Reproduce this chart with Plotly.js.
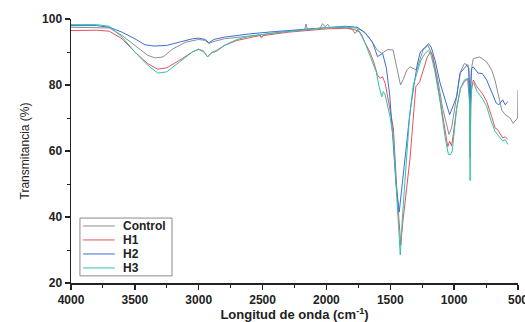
<!DOCTYPE html>
<html>
<head>
<meta charset="utf-8">
<script src="https://cdn.plot.ly/plotly-3.0.1.min.js"></script>
<style>html,body{margin:0;padding:0;background:#fff;}#chart{width:525px;height:322px;}</style>
</head>
<body>
<div id="chart"></div>
<script>
// Series names and colours
const seriesNames = ["Control", "H1", "H2", "H3"];
const seriesColors = ["#8e8e8e", "#e8525a", "#3b6fd6", "#2ec4a8"];

// Control
const wnControl = [4000,3800,3700,3600,3500,3400,3340,3280,3200,3100,3000,2950,2920,2880,2800,2600,2520,2510,2480,2300,2170,2160,2150,2050,2030,2010,1990,1970,1850,1800,1776,1750,1700,1650,1600,1567,1517,1478,1445,1420,1395,1371,1345,1320,1293,1244,1204,1170,1130,1090,1060,1040,1020,1000,980,950,920,890,875,860,850,800,745,706,680,654,627,600,562,538,515,503,500];
const tControl = [97.5,97.5,97.3,95,92,89,88.2,88.5,91,93,93.8,93.5,92.6,93.2,94,95,95.2,94.6,95.4,96.3,96.8,98.5,96.9,97.2,98.6,97.6,98.4,97.3,97.4,97,95.6,97,96,93.5,90.5,89.6,90.8,90.6,85,80,82,84.5,85.5,85,84.5,90.6,92,89,82,73,68,65,67,72,76,84,86.5,86,78,86,88,88.5,87,84.5,81.5,76.5,72.4,71,70,68.4,69.5,70,78.5];

// H1
const wnH1 = [4000,3800,3700,3600,3500,3400,3320,3250,3150,3050,3000,2960,2930,2900,2860,2800,2700,2600,2520,2510,2490,2300,2100,2000,1850,1780,1740,1700,1660,1630,1600,1580,1560,1540,1500,1476,1449,1430,1418,1403,1370,1345,1320,1300,1270,1240,1210,1185,1170,1150,1110,1070,1050,1035,1020,1000,980,950,920,890,880,875,868,850,823,780,745,706,680,660,640,620,600,580];
const tH1 = [96.5,96.6,96.3,94,90,86.5,84.8,85.2,87.5,90,90.9,90.2,88.5,89.8,90.2,92,93.5,94.3,95,94.3,95,96,96.6,97,97.2,96.8,96,93,90,87,83,82,82.5,80.5,72,67,48.5,36,31.5,38,50,58,70,79.5,81,85,88.5,90,89,85,76,66,61.3,63,61.5,67,73,79,81,82,76,58,78,81.5,79.5,77.5,75,70.4,67,66.5,65.4,64,64.3,63.5];

// H2
const wnH2 = [4000,3800,3700,3600,3500,3420,3350,3250,3150,3050,3000,2950,2920,2880,2800,2600,2400,2200,2000,1850,1760,1720,1680,1640,1600,1560,1530,1505,1480,1455,1430,1405,1375,1345,1320,1290,1265,1230,1200,1180,1150,1110,1060,1035,1000,980,955,930,900,885,875,865,850,813,780,745,720,695,670,650,620,600,580];
const tH2 = [98,98,97.5,96,94,92.2,91.8,92,93,94,94.2,93.8,92.8,93.8,94.5,95.5,96.2,96.8,97.5,97.8,97.5,96.5,95,93,88.6,89.6,85,77,64,50,41.5,50,62,72,78.5,86,90,91.5,92.5,91.5,87.6,80.6,74.5,71,74.5,76.5,83.5,84.5,86,85,72,85,85.5,83.6,83.5,81.5,79,76.5,74.5,74,75.5,74,75];

// H3
const wnH3 = [4000,3800,3700,3600,3500,3400,3320,3250,3150,3050,3000,2960,2930,2900,2860,2800,2700,2600,2400,2200,2000,1850,1760,1720,1680,1645,1610,1590,1567,1555,1540,1500,1476,1449,1430,1422,1405,1380,1350,1320,1290,1260,1230,1200,1180,1150,1110,1070,1045,1030,1015,1000,980,950,920,895,880,875,870,860,845,820,780,745,710,680,650,620,600,580];
const tH3 = [98.3,98.3,97.8,94.5,90,86,83.6,84,87,90,90.8,90,88.5,89.8,90.5,92,93.8,94.8,95.8,96.6,97.4,97.6,97.2,95,91,87,84,80,76.4,78,77,70,64,46,32,28.5,40,55,70,80,84,87.5,89.5,90.5,89,84,75,64,59,58.8,60,66,73,79,81.5,82,75,51,74,80,80.5,78,76,73.5,69,66,64.5,63,63.5,62];

const wnAll = [wnControl, wnH1, wnH2, wnH3];
const tAll = [tControl, tH1, tH2, tH3];

const xTickVals = [4000,3500,3000,2500,2000,1500,1000,500];
const yTickVals = [20,40,60,80,100];

const traces = seriesNames.map((n, i) => ({
  type: 'scatter', mode: 'lines', name: n,
  x: wnAll[i], y: tAll[i],
  line: {color: seriesColors[i], width: 1},
  showlegend: false, hoverinfo: 'skip'
}));

// custom legend (paper coordinates)
const shapes = [{
  type: 'rect', xref: 'paper', yref: 'paper',
  x0: 0.020, x1: 0.226, y0: 0.027, y1: 0.246,
  line: {color: '#8a8a8a', width: 1}, fillcolor: 'rgba(255,255,255,0)'
}];
const annotations = [];
const legY = [0.216, 0.163, 0.110, 0.057];
seriesNames.forEach((n, i) => {
  shapes.push({type: 'line', xref: 'paper', yref: 'paper',
    x0: 0.027, x1: 0.098, y0: legY[i], y1: legY[i],
    line: {color: seriesColors[i], width: 1}});
  annotations.push({xref: 'paper', yref: 'paper', x: 0.111, y: legY[i],
    xanchor: 'left', yanchor: 'middle', showarrow: false, text: '<b>' + n + '</b>',
    font: {family: 'Liberation Sans, Arial, sans-serif', size: 12, color: '#222'}});
});

const layout = {
  width: 525, height: 322,
  margin: {l: 71, r: 7, t: 19, b: 39},
  paper_bgcolor: '#fff', plot_bgcolor: '#fff',
  font: {family: 'Liberation Sans, Arial, sans-serif', size: 12, color: '#222'},
  xaxis: {
    range: [4000, 500], autorange: false,
    tickvals: xTickVals, ticktext: xTickVals.map(String),
    ticklabeloverflow: 'allow',
    ticks: 'outside', ticklen: 5, tickwidth: 1.5, tickcolor: '#222',
    minor: {dtick: 250, tick0: 500, ticks: 'outside', ticklen: 3, tickcolor: '#222', tickwidth: 1},
    showline: true, linewidth: 1.5, linecolor: '#222', mirror: false,
    showgrid: false, zeroline: false,
    tickfont: {size: 12, family: 'Liberation Sans, Arial, sans-serif', weight: 'bold', color: '#222'},
    title: {text: '<b>Longitud de onda (cm<sup>-1</sup>)</b>', standoff: 6,
      font: {size: 13, family: 'Liberation Sans, Arial, sans-serif', color: '#222'}},
    automargin: false
  },
  yaxis: {
    range: [20, 100], autorange: false,
    tickvals: yTickVals, ticktext: yTickVals.map(String),
    ticks: 'outside', ticklen: 5, tickwidth: 1.5, tickcolor: '#222',
    minor: {dtick: 10, tick0: 0, ticks: 'outside', ticklen: 3, tickcolor: '#222', tickwidth: 1},
    showline: true, linewidth: 1.5, linecolor: '#222', mirror: false,
    showgrid: false, zeroline: false,
    tickfont: {size: 12, family: 'Liberation Sans, Arial, sans-serif', weight: 'bold', color: '#222'},
    title: {text: 'Transmitancia (%)', standoff: 10,
      font: {size: 12, family: 'Liberation Sans, Arial, sans-serif', color: '#222'}},
    automargin: false
  },
  shapes: shapes,
  annotations: annotations,
  showlegend: false
};

Plotly.newPlot('chart', traces, layout, {displayModeBar: false, staticPlot: true});
</script>
</body>
</html>
